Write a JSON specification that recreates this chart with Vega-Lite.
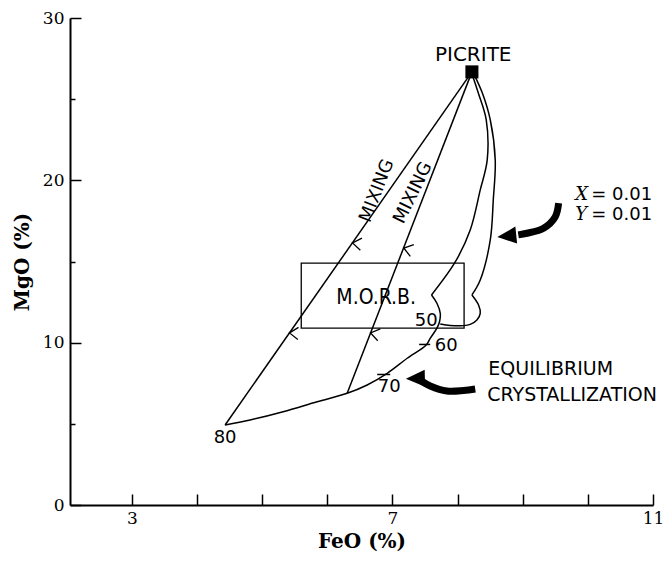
{
  "$schema": "https://vega.github.io/schema/vega-lite/v6.json",
  "width": 583,
  "height": 487,
  "autosize": "none",
  "padding": {"left": 70, "top": 18, "right": 18, "bottom": 60},
  "background": "white",
  "config": {"view": {"stroke": null}},
  "datasets": {
    "curves": [
      {"seg": "ML1", "i": 0, "x": 4.431, "y": 4.93},
      {"seg": "ML1", "i": 1, "x": 8.22, "y": 26.68},
      {"seg": "ML2", "i": 0, "x": 6.305, "y": 6.88},
      {"seg": "ML2", "i": 1, "x": 8.22, "y": 26.68},
      {"seg": "A1", "i": 0, "x": 8.225, "y": 26.5},
      {"seg": "A1", "i": 1, "x": 8.317, "y": 25.39},
      {"seg": "A1", "i": 2, "x": 8.44, "y": 23.72},
      {"seg": "A1", "i": 3, "x": 8.455, "y": 21.26},
      {"seg": "A1", "i": 4, "x": 8.348, "y": 19.41},
      {"seg": "A1", "i": 5, "x": 8.194, "y": 16.94},
      {"seg": "A1", "i": 6, "x": 7.964, "y": 14.97},
      {"seg": "A1", "i": 7, "x": 7.6, "y": 12.94},
      {"seg": "A2", "i": 0, "x": 7.6, "y": 12.94},
      {"seg": "A2", "i": 1, "x": 7.683, "y": 12.43},
      {"seg": "A2", "i": 2, "x": 7.734, "y": 11.81},
      {"seg": "A2", "i": 3, "x": 7.723, "y": 11.29},
      {"seg": "A2", "i": 4, "x": 7.683, "y": 10.89},
      {"seg": "A2", "i": 5, "x": 7.58, "y": 10.27},
      {"seg": "A2", "i": 6, "x": 7.518, "y": 9.86},
      {"seg": "A2", "i": 7, "x": 7.227, "y": 9.04},
      {"seg": "A2", "i": 8, "x": 6.919, "y": 8.11},
      {"seg": "A2", "i": 9, "x": 6.612, "y": 7.39},
      {"seg": "A2", "i": 10, "x": 6.305, "y": 6.88},
      {"seg": "A2", "i": 11, "x": 5.844, "y": 6.36},
      {"seg": "A2", "i": 12, "x": 5.322, "y": 5.75},
      {"seg": "A2", "i": 13, "x": 4.815, "y": 5.24},
      {"seg": "A2", "i": 14, "x": 4.431, "y": 4.93},
      {"seg": "B1", "i": 0, "x": 8.256, "y": 26.5},
      {"seg": "B1", "i": 1, "x": 8.379, "y": 25.39},
      {"seg": "B1", "i": 2, "x": 8.502, "y": 23.72},
      {"seg": "B1", "i": 3, "x": 8.578, "y": 21.26},
      {"seg": "B1", "i": 4, "x": 8.548, "y": 18.79},
      {"seg": "B1", "i": 5, "x": 8.502, "y": 16.33},
      {"seg": "B1", "i": 6, "x": 8.348, "y": 13.86},
      {"seg": "B1", "i": 7, "x": 8.22, "y": 12.94},
      {"seg": "B2", "i": 0, "x": 8.22, "y": 12.94},
      {"seg": "B2", "i": 1, "x": 8.322, "y": 12.32},
      {"seg": "B2", "i": 2, "x": 8.348, "y": 11.81},
      {"seg": "B2", "i": 3, "x": 8.297, "y": 11.4},
      {"seg": "B2", "i": 4, "x": 8.194, "y": 11.13},
      {"seg": "B2", "i": 5, "x": 8.091, "y": 11.05},
      {"seg": "B2", "i": 6, "x": 7.887, "y": 11.06},
      {"seg": "B2", "i": 7, "x": 7.734, "y": 11.15}
    ],
    "swoosh": [
      {"arrow": "S1", "i": 0, "x": 9.551, "y": 18.59},
      {"arrow": "S1", "i": 1, "x": 9.5, "y": 17.76},
      {"arrow": "S1", "i": 2, "x": 9.32, "y": 17.05},
      {"arrow": "S1", "i": 3, "x": 9.065, "y": 16.74},
      {"arrow": "S1", "i": 4, "x": 8.932, "y": 16.64},
      {"arrow": "S2", "i": 0, "x": 8.271, "y": 7.147},
      {"arrow": "S2", "i": 1, "x": 8.092, "y": 7.055},
      {"arrow": "S2", "i": 2, "x": 7.836, "y": 7.024},
      {"arrow": "S2", "i": 3, "x": 7.58, "y": 7.332},
      {"arrow": "S2", "i": 4, "x": 7.457, "y": 7.609}
    ],
    "heads": [
      {"arrow": "S1", "x": 8.763, "y": 16.57},
      {"arrow": "S2", "x": 7.36, "y": 7.8}
    ],
    "chevrons": [
      {"key": "1u", "x": 5.42, "y": 10.6},
      {"key": "1d", "x": 6.388, "y": 16.14},
      {"key": "2u", "x": 6.664, "y": 10.6},
      {"key": "2d", "x": 7.174, "y": 15.83}
    ],
    "picrite": [{"x": 8.22, "y": 26.68}],
    "box": [{"x": 5.6, "x2": 8.1, "y": 10.9, "y2": 14.9}],
    "dashes": [
      {"x": 7.41, "x2": 7.58, "y": 9.89},
      {"x": 6.766, "x2": 6.966, "y": 8.04}
    ],
    "titleText": [{"text": "PICRITE", "x": 8.24, "y": 27.73}],
    "mixing": [
      {"line": "ML1", "text": "MIXING", "x": 6.766, "y": 19.35},
      {"line": "ML2", "text": "MIXING", "x": 7.319, "y": 19.22}
    ],
    "morb": [{"text": "M.O.R.B.", "x": 6.75, "y": 12.75}],
    "numbers": [
      {"text": "50", "x": 7.518, "y": 11.34},
      {"text": "60", "x": 7.826, "y": 9.8},
      {"text": "70", "x": 6.95, "y": 7.27},
      {"text": "80", "x": 4.431, "y": 4.13}
    ],
    "notes": [
      {"text": "EQUILIBRIUM", "x": 8.471, "y": 8.35},
      {"text": "CRYSTALLIZATION", "x": 8.456, "y": 6.75}
    ],
    "vars": [
      {"text": "X", "x": 9.807, "y": 19.1},
      {"text": "Y", "x": 9.807, "y": 17.87}
    ],
    "vals": [
      {"text": "= 0.01", "x": 10.053, "y": 19.1},
      {"text": "= 0.01", "x": 10.053, "y": 17.87}
    ]
  },
  "encoding": {
    "x": {
      "field": "x",
      "type": "quantitative",
      "scale": {"domain": [2.05, 11], "nice": false, "zero": false},
      "axis": {
        "title": "FeO (%)",
        "values": [3, 4, 5, 6, 7, 8, 9, 10, 11],
        "labelExpr": "(datum.value == 3 || datum.value == 7 || datum.value == 11) ? datum.label : ''",
        "tickSize": -11,
        "tickWidth": 1.5,
        "tickColor": "black",
        "domainWidth": 2,
        "domainColor": "black",
        "labelColor": "black",
        "titleColor": "black",
        "labelFont": "DejaVu Serif",
        "labelFontSize": 17,
        "titleFont": "DejaVu Serif",
        "titleFontSize": 20,
        "titleFontWeight": "bold",
        "labelPadding": 16,
        "titlePadding": 5,
        "grid": false,
        "labelFlush": false,
        "labelOverlap": false
      }
    },
    "y": {
      "field": "y",
      "type": "quantitative",
      "scale": {"domain": [0, 30], "nice": false, "zero": false},
      "axis": {
        "title": "MgO (%)",
        "values": [0, 5, 10, 15, 20, 25, 30],
        "labelExpr": "datum.value % 10 === 0 ? datum.label : ''",
        "tickSize": {"condition": {"test": "datum.value % 10 === 0", "value": -11}, "value": -5},
        "tickWidth": 1.5,
        "tickColor": "black",
        "domainWidth": 2,
        "domainColor": "black",
        "labelColor": "black",
        "titleColor": "black",
        "labelFont": "DejaVu Serif",
        "labelFontSize": 17,
        "titleFont": "DejaVu Serif",
        "titleFontSize": 20,
        "titleFontWeight": "bold",
        "labelPadding": 17,
        "titlePadding": 10,
        "grid": false,
        "labelFlush": false,
        "labelOverlap": false
      }
    }
  },
  "layer": [
    {
      "data": {"name": "box"},
      "mark": {"type": "rect", "fill": null, "fillOpacity": 0, "stroke": "black", "strokeWidth": 1.3},
      "encoding": {"x2": {"field": "x2"}, "y2": {"field": "y2"}}
    },
    {
      "data": {"name": "curves"},
      "mark": {"type": "line", "interpolate": "catmull-rom", "color": "black", "strokeWidth": 1.5},
      "encoding": {"detail": {"field": "seg"}, "order": {"field": "i", "type": "quantitative"}}
    },
    {
      "data": {"name": "swoosh"},
      "mark": {"type": "line", "interpolate": "catmull-rom", "color": "black", "strokeWidth": 7, "strokeCap": "butt"},
      "encoding": {"detail": {"field": "arrow"}, "order": {"field": "i", "type": "quantitative"}}
    },
    {
      "data": {"name": "heads"},
      "mark": {"type": "point", "shape": "M0,-1L0.85,0.9L-0.85,0.9Z", "filled": true, "size": 400, "color": "black", "opacity": 1},
      "encoding": {"angle": {"field": "arrow", "type": "nominal", "scale": {"domain": ["S1", "S2"], "range": [264, 296]}, "legend": null}}
    },
    {
      "data": {"name": "chevrons"},
      "mark": {"type": "point", "shape": "M-0.7,1L0,0L0.7,1", "filled": false, "size": 300, "color": "black", "strokeWidth": 1.3, "opacity": 1},
      "encoding": {"angle": {"field": "key", "type": "nominal", "scale": {"domain": ["1u", "1d", "2u", "2d"], "range": [35, 215, 21, 201]}, "legend": null}}
    },
    {
      "data": {"name": "picrite"},
      "mark": {"type": "point", "shape": "square", "filled": true, "size": 170, "color": "black", "opacity": 1}
    },
    {
      "data": {"name": "dashes"},
      "mark": {"type": "rule", "color": "black", "strokeWidth": 1.5},
      "encoding": {"x2": {"field": "x2"}}
    },
    {
      "data": {"name": "titleText"},
      "mark": {"type": "text", "font": "DejaVu Sans", "fontSize": 20, "align": "center", "baseline": "middle", "color": "black"},
      "encoding": {"text": {"field": "text"}}
    },
    {
      "data": {"name": "mixing"},
      "mark": {"type": "text", "font": "DejaVu Sans", "fontSize": 18, "align": "center", "baseline": "middle", "color": "black"},
      "encoding": {
        "text": {"field": "text"},
        "angle": {"field": "line", "type": "nominal", "scale": {"domain": ["ML1", "ML2"], "range": [305, 291]}, "legend": null}
      }
    },
    {
      "data": {"name": "morb"},
      "mark": {"type": "text", "font": "DejaVu Sans Condensed, Liberation Sans Narrow, DejaVu Sans", "fontSize": 21, "align": "center", "baseline": "middle", "color": "black"},
      "encoding": {"text": {"field": "text"}}
    },
    {
      "data": {"name": "numbers"},
      "mark": {"type": "text", "font": "DejaVu Sans", "fontSize": 18, "align": "center", "baseline": "middle", "color": "black"},
      "encoding": {"text": {"field": "text"}}
    },
    {
      "data": {"name": "notes"},
      "mark": {"type": "text", "font": "DejaVu Sans", "fontSize": 19, "align": "left", "baseline": "middle", "color": "black"},
      "encoding": {"text": {"field": "text"}}
    },
    {
      "data": {"name": "vars"},
      "mark": {"type": "text", "font": "DejaVu Serif", "fontStyle": "italic", "fontSize": 18, "align": "left", "baseline": "middle", "color": "black"},
      "encoding": {"text": {"field": "text"}}
    },
    {
      "data": {"name": "vals"},
      "mark": {"type": "text", "font": "DejaVu Sans", "fontSize": 18, "align": "left", "baseline": "middle", "color": "black"},
      "encoding": {"text": {"field": "text"}}
    }
  ]
}
